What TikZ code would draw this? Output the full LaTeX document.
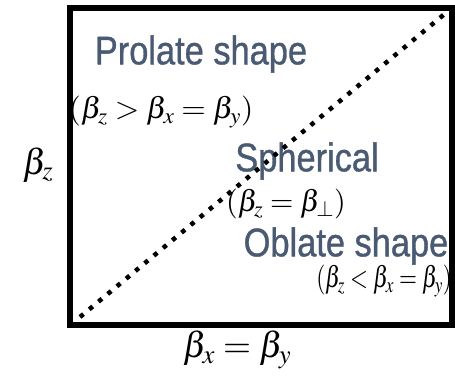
\documentclass[tikz,border=0pt]{standalone}
\usepackage{mathptmx}
\usepackage[no-math]{fontspec}
\newfontfamily\labelfont[FakeBold=1]{Liberation Sans}
\definecolor{slate}{RGB}{74,90,115}
\begin{document}
\begin{tikzpicture}[x=1pt,y=-1pt,
  lbl/.style={text=slate, font=\labelfont\fontsize{40}{44}\selectfont, inner sep=0pt},
  mth/.style={font=\fontsize{30}{34}\selectfont, inner sep=0pt},
  bigmth/.style={font=\fontsize{36}{40}\selectfont, inner sep=0pt},
  frame/.style={line width=6pt, draw=black},
  diag/.style={line width=4.5pt, dash pattern=on 4.5pt off 7.5pt}]
\useasboundingbox (0,0) rectangle (455,377);
\draw[frame] (70,8) rectangle (452,325);
\node[lbl] (prolate) at (201,54) {\scalebox{0.86}[1]{Prolate shape}};
\node[mth] (prolcond) at (161,112) {\scalebox{1.05}[1]{$(\beta_z > \beta_x = \beta_y)$}};
\node[bigmth] (bz) at (38,165) {$\beta_z$};
\node[lbl] (spherical) at (307,161) {\scalebox{0.86}[1]{Spherical}};
\node[mth] (sphcond) at (286,204) {$(\beta_z = \beta_\perp)$};
\node[lbl] (oblate) at (346,246) {\scalebox{0.86}[1]{Oblate shape}};
\node[mth] (oblcond) at (384,281) {\scalebox{0.77}[1]{$(\beta_z < \beta_x = \beta_y)$}};
\node[bigmth] (bxy) at (237,350) {$\beta_x = \beta_y$};
\coordinate (d1) at (80,317);
\coordinate (d2) at (447,12);
\draw[diag] (d1) -- (d2);
\end{tikzpicture}
\end{document}
